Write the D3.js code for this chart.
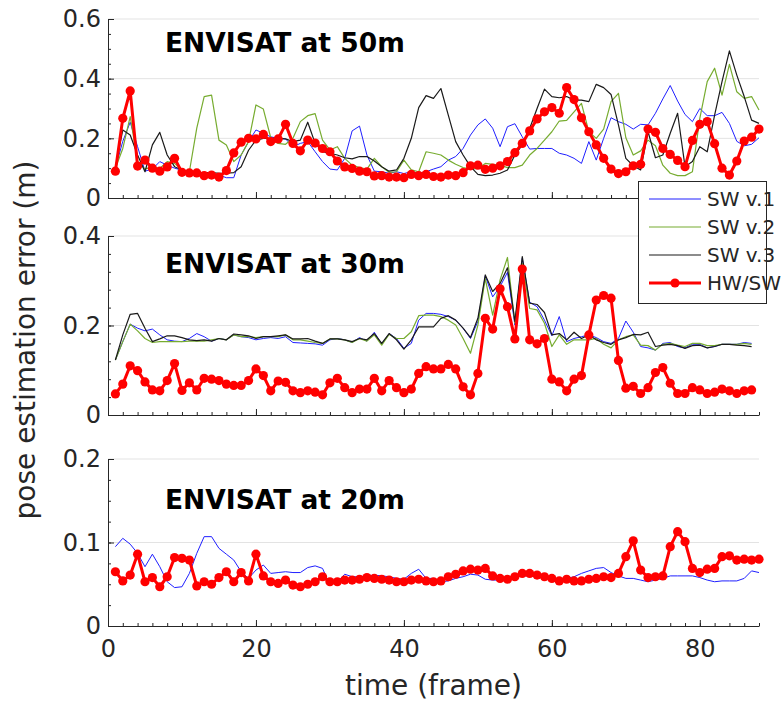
<!DOCTYPE html>
<html>
<head>
<meta charset="utf-8">
<script src="https://cdn.jsdelivr.net/npm/d3@7"></script>
<style>
  body { margin: 0; background: #fff; }
  svg { display: block; font-family: 'DejaVu Sans', sans-serif; }
</style>
</head>
<body>
<svg id="chart" width="783" height="702"></svg>
<script>
// ENVISAT at 50m
const sw1At50 = [
  0.10, 0.19, 0.254, 0.172, 0.09, 0.097, 0.122, 0.11, 0.10, 0.093,
  0.085, 0.083, 0.08, 0.079, 0.077, 0.068, 0.068, 0.144, 0.189, 0.228,
  0.217, 0.205, 0.20, 0.198, 0.172, 0.183, 0.189, 0.155, 0.122, 0.097,
  0.094, 0.133, 0.225, 0.241, 0.144, 0.09, 0.088, 0.083, 0.088, 0.082,
  0.088, 0.083, 0.088, 0.097, 0.105, 0.127, 0.139, 0.166, 0.211, 0.245,
  0.265, 0.234, 0.172, 0.239, 0.249, 0.205, 0.164, 0.166, 0.166, 0.166,
  0.15, 0.144, 0.133, 0.116, 0.189, 0.127, 0.20, 0.269, 0.256, 0.247,
  0.231, 0.247, 0.245, 0.284, 0.332, 0.377, 0.325, 0.28, 0.256, 0.30,
  0.276, 0.276, 0.287, 0.25, 0.19, 0.175, 0.18, 0.202,
];
const sw2At50 = [
  0.10, 0.166, 0.273, 0.122, 0.097, 0.105, 0.099, 0.122, 0.116, 0.094,
  0.088, 0.234, 0.34, 0.345, 0.194, 0.178, 0.122, 0.144, 0.189, 0.312,
  0.298, 0.202, 0.183, 0.18, 0.20, 0.256, 0.276, 0.283, 0.194, 0.161,
  0.172, 0.133, 0.11, 0.102, 0.097, 0.133, 0.105, 0.086, 0.088, 0.127,
  0.094, 0.088, 0.155, 0.15, 0.144, 0.127, 0.113, 0.102, 0.097, 0.099,
  0.116, 0.113, 0.11, 0.102, 0.102, 0.11, 0.144, 0.166, 0.194, 0.222,
  0.258, 0.26, 0.289, 0.317, 0.222, 0.20, 0.231, 0.323, 0.351, 0.202,
  0.144, 0.158, 0.194, 0.175, 0.11, 0.083, 0.075, 0.075, 0.088, 0.267,
  0.39, 0.435, 0.345, 0.448, 0.356, 0.334, 0.34, 0.295,
];
const sw3At50 = [
  0.10, 0.228, 0.211, 0.144, 0.088, 0.178, 0.22, 0.144, 0.105, 0.094,
  0.088, 0.086, 0.085, 0.085, 0.083, 0.083, 0.085, 0.105, 0.16, 0.194,
  0.20, 0.20, 0.20, 0.198, 0.189, 0.194, 0.254, 0.183, 0.155, 0.15,
  0.144, 0.135, 0.131, 0.139, 0.139, 0.124, 0.105, 0.09, 0.094, 0.133,
  0.20, 0.303, 0.343, 0.334, 0.367, 0.278, 0.189, 0.144, 0.105, 0.079,
  0.075, 0.077, 0.083, 0.094, 0.144, 0.178, 0.233, 0.30, 0.365, 0.34,
  0.336, 0.34, 0.328, 0.328, 0.323, 0.381, 0.37, 0.347, 0.245, 0.133,
  0.108, 0.094, 0.222, 0.135, 0.144, 0.217, 0.284, 0.105, 0.122, 0.172,
  0.155, 0.278, 0.39, 0.493, 0.412, 0.34, 0.261, 0.25,
];
const hwAt50 = [
  0.09, 0.267, 0.359, 0.107, 0.127, 0.10, 0.09, 0.104, 0.133, 0.086,
  0.084, 0.084, 0.075, 0.077, 0.07, 0.092, 0.151, 0.187, 0.20, 0.198,
  0.213, 0.189, 0.198, 0.247, 0.183, 0.158, 0.194, 0.184, 0.166, 0.155,
  0.124, 0.104, 0.099, 0.09, 0.088, 0.074, 0.075, 0.07, 0.07, 0.068,
  0.079, 0.075, 0.079, 0.072, 0.07, 0.077, 0.075, 0.085, 0.108, 0.11,
  0.096, 0.10, 0.108, 0.122, 0.152, 0.183, 0.225, 0.265, 0.289, 0.303,
  0.284, 0.37, 0.33, 0.269, 0.222, 0.178, 0.133, 0.097, 0.082, 0.088,
  0.108, 0.113, 0.231, 0.22, 0.166, 0.146, 0.126, 0.105, 0.193, 0.247,
  0.256, 0.182, 0.10, 0.077, 0.124, 0.191, 0.204, 0.231,
];

// ENVISAT at 30m
const sw1At30 = [
  0.123, 0.164, 0.203, 0.194, 0.188, 0.192, 0.179, 0.168, 0.165, 0.164,
  0.171, 0.182, 0.175, 0.165, 0.171, 0.168, 0.179, 0.175, 0.173, 0.168,
  0.171, 0.173, 0.171, 0.175, 0.162, 0.161, 0.16, 0.159, 0.156, 0.168,
  0.171, 0.168, 0.162, 0.173, 0.165, 0.185, 0.158, 0.182, 0.171, 0.149,
  0.16, 0.212, 0.227, 0.227, 0.225, 0.22, 0.212, 0.194, 0.171, 0.209,
  0.311, 0.264, 0.287, 0.319, 0.201, 0.35, 0.252, 0.242, 0.212, 0.177,
  0.22, 0.164, 0.171, 0.175, 0.179, 0.173, 0.164, 0.16, 0.171, 0.21,
  0.185, 0.153, 0.15, 0.145, 0.16, 0.162, 0.153, 0.15, 0.158, 0.158,
  0.15, 0.153, 0.158, 0.158, 0.158, 0.162, 0.16,
];
const sw2At30 = [
  0.123, 0.164, 0.203, 0.188, 0.171, 0.162, 0.164, 0.164, 0.164, 0.164,
  0.165, 0.165, 0.165, 0.168, 0.171, 0.168, 0.179, 0.175, 0.175, 0.173,
  0.175, 0.175, 0.175, 0.179, 0.168, 0.168, 0.165, 0.162, 0.16, 0.17,
  0.17, 0.168, 0.162, 0.171, 0.165, 0.179, 0.156, 0.18, 0.171, 0.171,
  0.186, 0.222, 0.223, 0.223, 0.22, 0.212, 0.201, 0.171, 0.138, 0.201,
  0.305, 0.223, 0.302, 0.352, 0.205, 0.339, 0.238, 0.235, 0.205, 0.153,
  0.179, 0.158, 0.168, 0.168, 0.168, 0.171, 0.158, 0.15, 0.168, 0.175,
  0.179, 0.156, 0.155, 0.145, 0.158, 0.16, 0.156, 0.153, 0.16, 0.16,
  0.155, 0.155, 0.158, 0.158, 0.158, 0.16, 0.158,
];
const sw3At30 = [
  0.123, 0.179, 0.225, 0.227, 0.194, 0.164, 0.17, 0.177, 0.177, 0.173,
  0.168, 0.166, 0.168, 0.165, 0.171, 0.168, 0.181, 0.179, 0.177, 0.171,
  0.175, 0.175, 0.177, 0.179, 0.17, 0.17, 0.171, 0.165, 0.16, 0.17,
  0.17, 0.168, 0.164, 0.171, 0.168, 0.182, 0.16, 0.182, 0.168, 0.147,
  0.168, 0.197, 0.197, 0.197, 0.216, 0.222, 0.212, 0.194, 0.173, 0.216,
  0.313, 0.276, 0.294, 0.329, 0.209, 0.354, 0.25, 0.247, 0.229, 0.179,
  0.182, 0.168, 0.185, 0.171, 0.179, 0.168, 0.162, 0.158, 0.168, 0.173,
  0.18, 0.179, 0.185, 0.153, 0.156, 0.158, 0.155, 0.149, 0.155, 0.156,
  0.15, 0.153, 0.158, 0.158, 0.156, 0.155, 0.153,
];
const hwAt30 = [
  0.047, 0.069, 0.11, 0.099, 0.074, 0.056, 0.054, 0.077, 0.115, 0.055,
  0.072, 0.056, 0.082, 0.08, 0.077, 0.069, 0.066, 0.066, 0.077, 0.103,
  0.088, 0.054, 0.076, 0.073, 0.054, 0.05, 0.054, 0.051, 0.045, 0.072,
  0.082, 0.061, 0.05, 0.058, 0.058, 0.082, 0.054, 0.077, 0.061, 0.05,
  0.058, 0.093, 0.108, 0.103, 0.103, 0.113, 0.103, 0.063, 0.045, 0.093,
  0.216, 0.192, 0.282, 0.242, 0.17, 0.326, 0.168, 0.159, 0.171, 0.08,
  0.074, 0.054, 0.08, 0.088, 0.179, 0.257, 0.267, 0.261, 0.122, 0.06,
  0.064, 0.048, 0.061, 0.095, 0.106, 0.071, 0.048, 0.048, 0.061, 0.056,
  0.048, 0.051, 0.058, 0.054, 0.048, 0.054, 0.056,
];

// ENVISAT at 20m
const sw1At20 = [
  0.095, 0.105, 0.098, 0.087, 0.071, 0.086, 0.071, 0.053, 0.046, 0.047,
  0.063, 0.087, 0.107, 0.107, 0.093, 0.086, 0.079, 0.065, 0.057, 0.067,
  0.073, 0.063, 0.064, 0.065, 0.064, 0.064, 0.07, 0.072, 0.069, 0.049,
  0.053, 0.062, 0.059, 0.059, 0.06, 0.061, 0.06, 0.059, 0.057, 0.056,
  0.063, 0.068, 0.057, 0.057, 0.053, 0.054, 0.057, 0.059, 0.062, 0.061,
  0.056, 0.055, 0.055, 0.057, 0.059, 0.06, 0.06, 0.059, 0.058, 0.057,
  0.056, 0.057, 0.059, 0.063, 0.066, 0.069, 0.07, 0.064, 0.06, 0.057,
  0.057, 0.055, 0.053, 0.055, 0.057, 0.06, 0.06, 0.06, 0.06, 0.058,
  0.055, 0.053, 0.054, 0.054, 0.054, 0.057, 0.066, 0.064,
];
const hwAt20 = [
  0.065, 0.054, 0.061, 0.086, 0.053, 0.058, 0.047, 0.059, 0.082, 0.081,
  0.079, 0.048, 0.053, 0.05, 0.058, 0.065, 0.053, 0.064, 0.054, 0.086,
  0.06, 0.053, 0.051, 0.055, 0.049, 0.047, 0.05, 0.053, 0.059, 0.053,
  0.053, 0.055, 0.055, 0.056, 0.058, 0.057, 0.056, 0.055, 0.053, 0.053,
  0.055, 0.056, 0.054, 0.053, 0.054, 0.059, 0.062, 0.066, 0.068, 0.067,
  0.069, 0.06, 0.057, 0.056, 0.059, 0.063, 0.063, 0.061, 0.059, 0.057,
  0.054, 0.056, 0.054, 0.054, 0.056, 0.057, 0.059, 0.058, 0.063, 0.083,
  0.102, 0.067, 0.058, 0.059, 0.06, 0.095, 0.113, 0.101, 0.069, 0.064,
  0.068, 0.069, 0.083, 0.084, 0.079, 0.08, 0.079, 0.08,
];

const seriesNames = ['SW v.1', 'SW v.2', 'SW v.3', 'HW/SW'];
const panelTitles = ['ENVISAT at 50m', 'ENVISAT at 30m', 'ENVISAT at 20m'];
const xTicks = [0, 20, 40, 60, 80];
const yTicks50 = [0, 0.2, 0.4, 0.6];
const yTicks30 = [0, 0.2, 0.4];
const yTicks20 = [0, 0.1, 0.2];

const AXIS_COLOR = '#262626';
const GRID_COLOR = '#e3e3e3';
const styles = {
  'SW v.1': { color: '#1f1fff', width: 1 },
  'SW v.2': { color: '#77ac30', width: 1.2 },
  'SW v.3': { color: '#1a1a1a', width: 1.2 },
  'HW/SW': { color: '#ff0000', width: 3, marker: 4.6 },
};

const panels = [
  { title: panelTitles[0], top: 19, bottom: 198, ticks: yTicks50, minor: 0.05, titleY: 52,
    series: [sw1At50, sw2At50, sw3At50, hwAt50] },
  { title: panelTitles[1], top: 236, bottom: 415, ticks: yTicks30, minor: 0.04, titleY: 273,
    series: [sw1At30, sw2At30, sw3At30, hwAt30] },
  { title: panelTitles[2], top: 459, bottom: 626, ticks: yTicks20, minor: 0.025, titleY: 509,
    series: [sw1At20, null, null, hwAt20] },
];

const svg = d3.select('#chart');
const x = d3.scaleLinear().domain([0, 88]).range([108, 759]);
const xMinor = d3.range(0, 89, 2);

const styleAxis = (g) => {
  g.selectAll('path, line').attr('stroke', AXIS_COLOR).attr('stroke-width', 1);
  g.selectAll('text').attr('fill', AXIS_COLOR).attr('font-family', 'DejaVu Sans').attr('font-size', 24);
};

panels.forEach((p, i) => {
  const yMax = p.ticks[p.ticks.length - 1];
  const y = d3.scaleLinear().domain([0, yMax]).range([p.bottom, p.top]);
  const g = svg.append('g').attr('class', `panel-${i}`);

  // grid lines at major ticks
  g.append('g').selectAll('line')
    .data(p.ticks.filter(t => t > 0))
    .enter()
    .append('line')
    .attr('x1', x(0)).attr('x2', x(88))
    .attr('y1', d => y(d)).attr('y2', d => y(d))
    .attr('stroke', GRID_COLOR).attr('stroke-width', 1);

  const last = i === panels.length - 1;

  // minor ticks
  g.append('g')
    .attr('transform', `translate(0,${p.bottom})`)
    .call(d3.axisBottom(x).tickValues(xMinor).tickFormat('').tickSize(-3))
    .call(a => a.select('.domain').remove())
    .call(styleAxis);
  g.append('g')
    .attr('transform', `translate(${x(0)},0)`)
    .call(d3.axisLeft(y).tickValues(d3.range(0, yMax + 1e-9, p.minor)).tickFormat('').tickSize(-3))
    .call(a => a.select('.domain').remove())
    .call(styleAxis);

  // major axes
  g.append('g')
    .attr('transform', `translate(0,${p.bottom})`)
    .call(d3.axisBottom(x).tickValues(xTicks).tickSizeInner(-6).tickSizeOuter(0).tickPadding(14)
      .tickFormat(last ? d3.format('d') : ''))
    .call(styleAxis);
  g.append('g')
    .attr('transform', `translate(${x(0)},0)`)
    .call(d3.axisLeft(y).tickValues(p.ticks).tickSizeInner(-6).tickSizeOuter(0).tickPadding(7)
      .tickFormat(d => (d === 0 ? '0' : d3.format('.1f')(d))))
    .call(styleAxis);

  // series
  const line = d3.line().x((d, j) => x(j + 1)).y(d => y(d));
  p.series.forEach((values, k) => {
    if (!values) return;
    const s = styles[seriesNames[k]];
    g.append('path')
      .datum(values)
      .attr('d', line)
      .attr('fill', 'none')
      .attr('stroke', s.color)
      .attr('stroke-width', s.width)
      .attr('stroke-linejoin', 'round');
    if (s.marker) {
      g.append('g').selectAll('circle')
        .data(values)
        .enter()
        .append('circle')
        .attr('cx', (d, j) => x(j + 1))
        .attr('cy', d => y(d))
        .attr('r', s.marker)
        .attr('fill', s.color);
    }
  });

  g.append('text')
    .attr('x', 165).attr('y', p.titleY)
    .attr('font-size', 26.5).attr('font-weight', 'bold').attr('fill', '#000')
    .text(p.title);
});

// axis labels
svg.append('text')
  .attr('x', (x(0) + x(88)) / 2).attr('y', 695)
  .attr('text-anchor', 'middle').attr('font-size', 28).attr('fill', AXIS_COLOR)
  .text('time (frame)');
svg.append('text')
  .attr('transform', 'translate(35,340) rotate(-90)')
  .attr('text-anchor', 'middle').attr('font-size', 28).attr('fill', AXIS_COLOR)
  .text('pose estimation error (m)');

// legend
const legend = svg.append('g').attr('class', 'legend');
legend.append('rect')
  .attr('x', 638.5).attr('y', 181.5).attr('width', 128).attr('height', 122)
  .attr('fill', '#fff').attr('stroke', AXIS_COLOR).attr('stroke-width', 1);
const ly = d3.scalePoint().domain(seriesNames).range([199, 283]);
seriesNames.forEach((name) => {
  const s = styles[name];
  legend.append('line')
    .attr('x1', 649).attr('x2', 701).attr('y1', ly(name)).attr('y2', ly(name))
    .attr('stroke', s.color).attr('stroke-width', s.width);
  if (s.marker) {
    legend.append('circle').attr('cx', 675).attr('cy', ly(name)).attr('r', s.marker).attr('fill', s.color);
  }
  legend.append('text')
    .attr('x', 707).attr('y', ly(name)).attr('dy', '0.36em')
    .attr('font-size', 20).attr('fill', AXIS_COLOR)
    .text(name);
});
</script>
</body>
</html>
